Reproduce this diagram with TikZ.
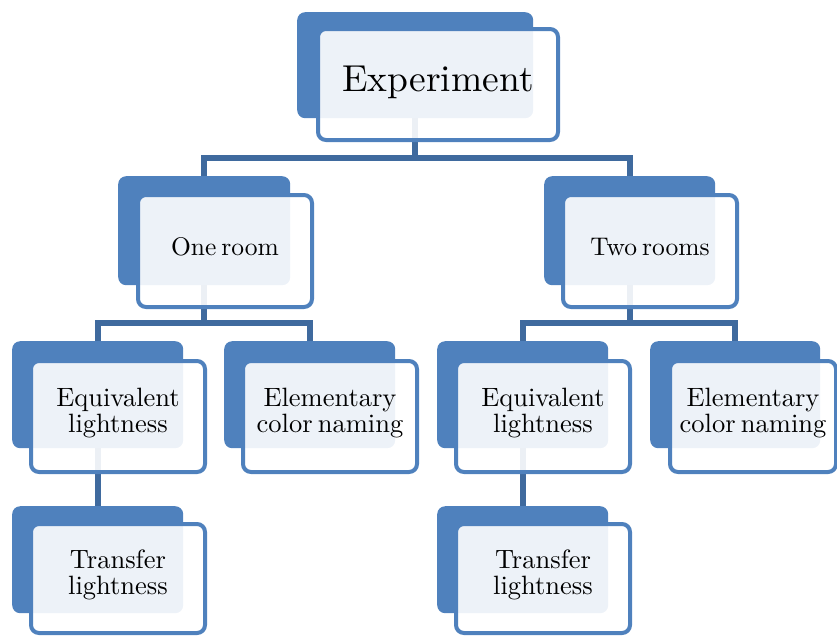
\documentclass[tikz,border=0pt]{standalone}
\usepackage{fontspec}
\setmainfont{lmroman10-regular}[Extension=.otf, WordSpace=0.6]
\usetikzlibrary{calc}
\definecolor{accent}{HTML}{4F81BD}
\definecolor{conncol}{HTML}{3F6A9E}
\pgfdeclarelayer{bg}
\pgfsetlayers{bg,main}
\newcommand\fsA{\fontsize{37.5}{40}\selectfont}
\newcommand\fsB{\fontsize{25.5}{27}\selectfont}
\newcommand\fsC{\fontsize{26.5}{26}\selectfont}
\tikzset{
  backbox/.style={fill=accent, rounded corners=8pt, inner sep=0pt, anchor=north west},
  frontbox/.style={fill=white, fill opacity=0.9, text opacity=1, draw=accent, draw opacity=1,
    line width=4pt, rounded corners=8pt, inner sep=0pt, anchor=north west, align=center, text=black},
  conn/.style={draw=conncol, line width=6pt},
  lvlA/.style={font=\fsA, text depth=11pt},
  lvlB/.style={font=\fsB, text depth=8pt},
  lvlC/.style={font=\fsC, text depth=12pt},
}
\begin{document}
\begin{tikzpicture}[x=1pt,y=-1pt]
\useasboundingbox (0,0) rectangle (837,635);
% level 1
\node[backbox, minimum width=236pt, minimum height=106pt] (expB) at (297,12) {};
\node[frontbox, lvlA, minimum width=240pt, minimum height=111pt] (expF) at (316,27) {Experiment};
% level 2
\node[backbox, minimum width=172pt, minimum height=109pt] (oneB) at (118,176) {};
\node[frontbox, lvlB, minimum width=174pt, minimum height=112pt] (oneF) at (136,193) {One room};
\node[backbox, minimum width=171pt, minimum height=109pt] (twoB) at (544,176) {};
\node[frontbox, lvlB, minimum width=174pt, minimum height=112pt] (twoF) at (561,193) {Two rooms};
% level 3
\node[backbox, minimum width=171pt, minimum height=107pt] (eqaB) at (12,341) {};
\node[frontbox, lvlC, minimum width=174pt, minimum height=111pt] (eqaF) at (29,359) {Equivalent\\lightness};
\node[backbox, minimum width=171pt, minimum height=107pt] (elaB) at (224,341) {};
\node[frontbox, lvlC, minimum width=174pt, minimum height=111pt] (elaF) at (241,359) {Elementary\\color naming};
\node[backbox, minimum width=171pt, minimum height=107pt] (eqbB) at (437,341) {};
\node[frontbox, lvlC, minimum width=174pt, minimum height=111pt] (eqbF) at (454,359) {Equivalent\\lightness};
\node[backbox, minimum width=170pt, minimum height=107pt] (elbB) at (650,341) {};
\node[frontbox, lvlC, minimum width=166pt, minimum height=111pt] (elbF) at (668,359) {Elementary\\color naming};
% level 4
\node[backbox, minimum width=171pt, minimum height=107pt] (traB) at (12,506) {};
\node[frontbox, lvlC, minimum width=174pt, minimum height=109pt] (traF) at (29,522) {Transfer\\lightness};
\node[backbox, minimum width=171pt, minimum height=107pt] (trbB) at (437,506) {};
\node[frontbox, lvlC, minimum width=174pt, minimum height=109pt] (trbF) at (454,522) {Transfer\\lightness};
% connectors
\begin{pgfonlayer}{bg}
\draw[conn] (expB.south) -- ++(0,40) coordinate (j1);
\draw[conn] (oneB.north) |- (j1) -| (twoB.north);
\draw[conn] (oneB.south) -- ++(0,38) coordinate (j2);
\draw[conn] (eqaB.north) |- (j2) -| (elaB.north);
\draw[conn] (twoB.south) -- ++(0,38) coordinate (j3);
\draw[conn] (eqbB.north) |- (j3) -| (elbB.north);
\draw[conn] (eqaB.south) -- (traB.north);
\draw[conn] (eqbB.south) -- (trbB.north);
\end{pgfonlayer}
\end{tikzpicture}
\end{document}
